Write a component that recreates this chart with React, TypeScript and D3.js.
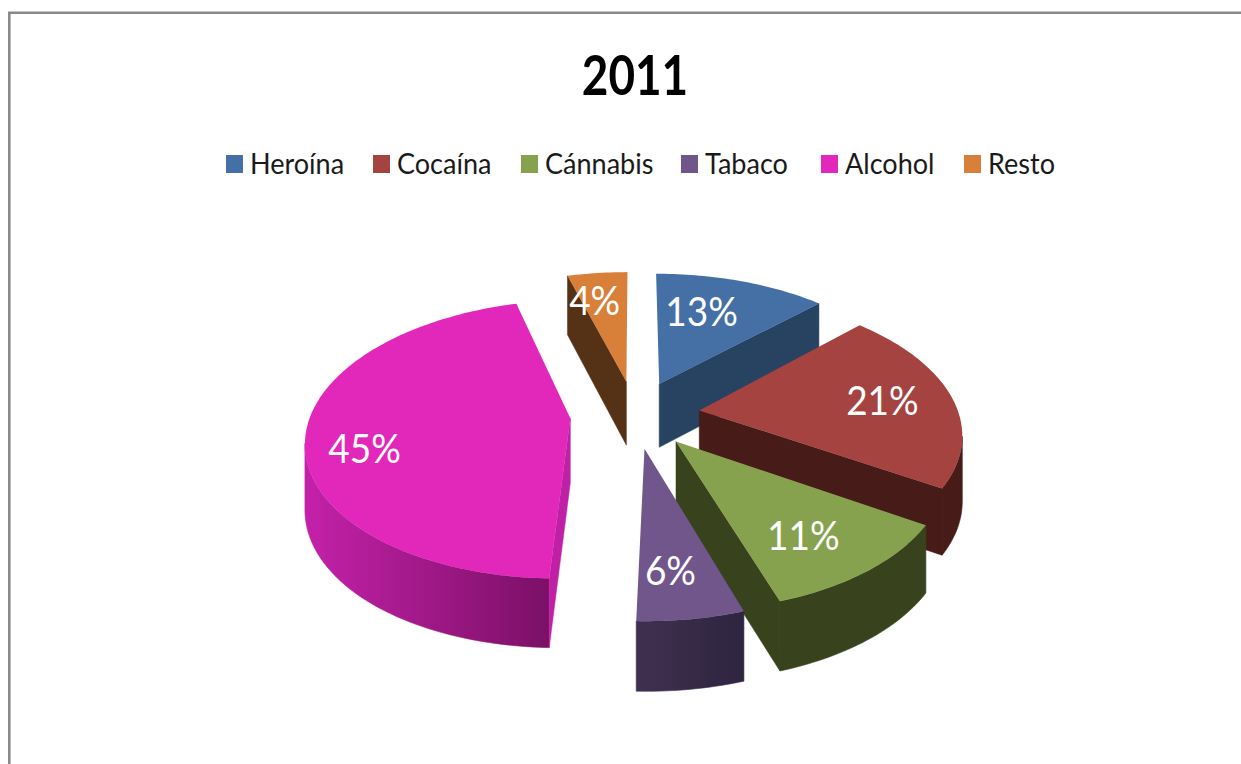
import React from "react";
import * as d3 from "d3";

const categories = ["Heroína", "Cocaína", "Cánnabis", "Tabaco", "Alcohol", "Resto"];
// slice sizes, the labels show them rounded
const shares = [12.6, 21.4, 11, 5.5, 45.1, 4.4];
const topColors = ["#4470a5", "#a54340", "#87a24e", "#71568c", "#e128bb", "#d8803a"];
const edgeColors = ["#284261", "#471b18", "#38421c", "#352a4a", "#bf20a5", "#553116"];
const wallLight = ["#284261", "#471b18", "#38421c", "#40304f", "#c421a9", "#553116"];
const wallDark = ["#284261", "#471b18", "#38421c", "#2e2540", "#7b1066", "#553116"];
const legendX = [226, 373, 521, 681, 821, 964];
const labelShift = [[-19, 5], [1, 1], [-6, 5], [-6, 6], [-16, 19], [-10, 0]];

const width = 1241;
const height = 764;

// tilted disc, nearer part drawn larger
const cx = 635;
const cy = 414;
const rx = 259.5;
const ry = 135;
const persp = 0.15;
const explode = 0.25;
const labelR = 0.72;

type Pt = [number, number];

const project = (u: number, v: number): Pt => {
  const w = 1 - persp * v;
  return [cx + (rx * u) / w, cy + (ry * v) / w];
};
const wallH = (v: number) => 64.5 + 4.5 * v;
const line = d3.line();

export default function App() {
  const slices = d3.pie<number>().sort(null)(shares);

  const shapes = slices.map((s, i) => {
    const mid = (s.startAngle + s.endAngle) / 2;
    const ou = explode * Math.sin(mid);
    const ov = -explode * Math.cos(mid);
    const n = Math.ceil((s.endAngle - s.startAngle) / 0.02);
    const angles = d3.range(n + 1).map((k) => s.startAngle + ((s.endAngle - s.startAngle) * k) / n);
    const world = angles.map((a) => [ou + Math.sin(a), ov - Math.cos(a)]);
    const rim = world.map(([u, v]) => project(u, v));
    const rimLow = world.map(([u, v], k) => [rim[k][0], rim[k][1] + wallH(v)] as Pt);
    const apex = project(ou, ov);
    const apexLow: Pt = [apex[0], apex[1] + wallH(ov)];

    // walls hang from edges that run leftwards when going clockwise
    const edges: string[] = [];
    const last = rim.length - 1;
    if (apex[0] - rim[0][0] > 8) edges.push(line([apex, rim[0], rimLow[0], apexLow])! + "Z");
    if (rim[last][0] - apex[0] > 8) edges.push(line([rim[last], apex, apexLow, rimLow[last]])! + "Z");

    const visible = d3.range(last).filter((k) => rim[k + 1][0] < rim[k][0]);
    let outer: string | null = null;
    let gx: Pt = [0, 1];
    if (visible.length) {
      const a = visible[0];
      const b = visible[visible.length - 1] + 1;
      const up = rim.slice(a, b + 1);
      const down = rimLow.slice(a, b + 1).reverse();
      outer = line([...up, ...down])! + "Z";
      gx = [up[up.length - 1][0], up[0][0]];
    }
    const label = project(ou + labelR * Math.sin(mid), ov - labelR * Math.cos(mid));
    return {
      i,
      apexY: apex[1],
      top: line([apex, ...rim])! + "Z",
      edges,
      outer,
      gx,
      label,
    };
  });

  const order = d3.sort(shapes, (d) => d.apexY);

  return (
    <svg
      width={width}
      height={height}
      viewBox={`0 0 ${width} ${height}`}
      style={{ position: "absolute", left: 0, top: 0, background: "#fff" }}
      fontFamily="Lato, sans-serif"
    >
      <defs>
        {shapes.map((d) => (
          <linearGradient
            key={d.i}
            id={`wall${d.i}`}
            gradientUnits="userSpaceOnUse"
            x1={d.gx[0]}
            x2={d.gx[1]}
            y1={0}
            y2={0}
          >
            <stop offset="0" stopColor={wallLight[d.i]} />
            <stop offset="1" stopColor={wallDark[d.i]} />
          </linearGradient>
        ))}
      </defs>

      {/* frame, only top and left are in the picture */}
      <path d="M9.3 764V12.8H1241" fill="none" stroke="#8a8a8a" strokeWidth={2.6} />

      <text
        transform="translate(635,95) scale(1.02,1.22)"
        textAnchor="middle"
        fontSize={45}
        fontWeight={700}
        fill="#000"
      >
        2011
      </text>

      {categories.map((c, i) => (
        <g key={c}>
          <rect x={legendX[i]} y={155} width={17} height={18} fill={topColors[i]} />
          <text
            transform={`translate(${legendX[i] + 24},174) scale(1.04,1.1)`}
            fontSize={26}
            fill="#1a1a1a"
          >
            {c}
          </text>
        </g>
      ))}

      {order.map((d) => (
        <g key={d.i}>
          {d.outer && (
            <path d={d.outer} fill={`url(#wall${d.i})`} stroke={`url(#wall${d.i})`} strokeWidth={0.6} />
          )}
          {d.edges.map((e, k) => (
            <path key={k} d={e} fill={edgeColors[d.i]} stroke={edgeColors[d.i]} strokeWidth={0.5} />
          ))}
          <path d={d.top} fill={topColors[d.i]} />
        </g>
      ))}

      {order.map((d) => (
        <text
          key={d.i}
          transform={`translate(${d.label[0] + labelShift[d.i][0]},${d.label[1] + 14 + labelShift[d.i][1]}) scale(1,1.1)`}
          textAnchor="middle"
          fontSize={37}
          fill="#fff"
        >
          {Math.round(shares[d.i])}%
        </text>
      ))}
    </svg>
  );
}
